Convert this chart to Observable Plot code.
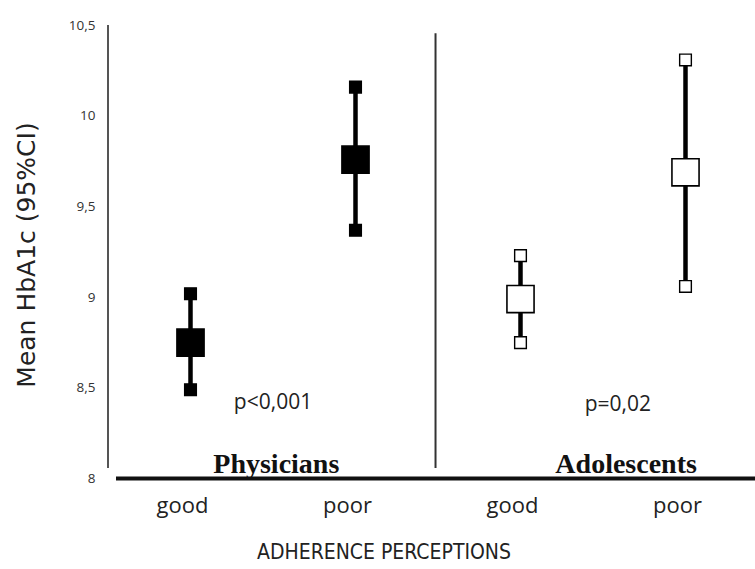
<!DOCTYPE html>
<html>
<head>
<meta charset="utf-8">
<script src="https://cdn.jsdelivr.net/npm/d3@7"></script>
<script src="https://cdn.jsdelivr.net/npm/@observablehq/plot@0.6"></script>
<style>
  html, body { margin: 0; padding: 0; background: #fff; }
  #chart { width: 755px; height: 569px; }
</style>
</head>
<body>
<div id="chart"></div>
<script>
// ---- data ----
const groups = ["Physicians", "Physicians", "Adolescents", "Adolescents"];
const adherence = ["good", "poor", "good", "poor"];
const position = [1, 2, 3, 4];
const meanHbA1c = [8.75, 9.76, 8.99, 9.69];
const lowerCI = [8.49, 9.37, 8.75, 9.06];
const upperCI = [9.02, 10.16, 9.23, 10.31];
const yTicks = [8, 8.5, 9, 9.5, 10, 10.5];
const groupLabels = ["Physicians", "Adolescents"];
const groupLabelX = [1.52, 3.64];
const pLabels = ["p<0,001", "p=0,02"];
const pLabelX = [1.5, 3.59];
const pLabelY = [8.42, 8.41];

const rows = position.map((p, i) => ({
  x: p, group: groups[i], adherence: adherence[i],
  mean: meanHbA1c[i], lo: lowerCI[i], hi: upperCI[i],
  open: groups[i] === "Adolescents"
}));
const ends = rows.flatMap(d => [{x: d.x, y: d.lo, open: d.open}, {x: d.x, y: d.hi, open: d.open}]);
const gl = groupLabels.map((t, i) => ({t, x: groupLabelX[i]}));
const pl = pLabels.map((t, i) => ({t, x: pLabelX[i], y: pLabelY[i]}));

const sans = "'Open Sans', 'DejaVu Sans', sans-serif";

const chart = Plot.plot({
  width: 755,
  height: 569,
  marginLeft: 116,
  marginRight: 0,
  marginTop: 25,
  marginBottom: 91,
  style: {fontFamily: sans, background: "#fff", color: "#222"},
  x: {type: "linear", domain: [1, 4], range: [190, 685], axis: null},
  y: {domain: [8, 10.5], axis: null},
  marks: [
    // y axis line and divider
    Plot.ruleX([0.5], {y1: 8.055, y2: 10.5, stroke: "#555", strokeWidth: 2}),
    Plot.ruleX([2.485], {y1: 8.055, y2: 10.455, stroke: "#333", strokeWidth: 2}),
    // bottom axis line
    Plot.ruleY([8], {stroke: "#111", strokeWidth: 4}),
    // y tick labels
    Plot.axisY({ticks: yTicks, tickSize: 0, tickPadding: 21, fontSize: 13.5,
      tickFormat: d => String(d).replace(".", ","), fill: "#333"}),
    // x tick labels
    Plot.text(rows, {x: "x", y: 8, text: "adherence", dy: 27, dx: -8,
      fontSize: 22, fill: "#222", fontFamily: sans}),
    // error bars
    Plot.ruleX(rows, {x: "x", y1: "lo", y2: "hi", stroke: "#000", strokeWidth: 4.5}),
    // CI end squares
    Plot.dot(ends, {x: "x", y: "y", symbol: "square", r: 6.6,
      fill: d => d.open ? "#fff" : "#000", stroke: "#000", strokeWidth: 1.4}),
    // mean squares
    Plot.dot(rows, {x: "x", y: "mean", symbol: "square", r: 15.3,
      fill: d => d.open ? "#fff" : "#000", stroke: "#000", strokeWidth: 1.6}),
    // group labels
    Plot.text(gl, {x: "x", y: 8, text: "t", lineAnchor: "bottom", dy: -6,
      fontFamily: "'Liberation Serif', 'Times New Roman', serif", fontWeight: "bold",
      fontSize: 28, fill: "#111"}),
    // p-values
    Plot.text(pl, {x: "x", y: "y", text: "t", fontSize: 21, fill: "#222", fontFamily: sans}),
    // axis titles
    Plot.text(["ADHERENCE PERCEPTIONS"], {frameAnchor: "bottom", dx: -52, dy: 80,
      fontSize: 21, fill: "#222", fontFamily: "'Liberation Sans Narrow', 'DejaVu Sans Condensed', 'Roboto', sans-serif",
      fontWeight: "normal"}),
    Plot.text(["Mean HbA1c (95%CI)"], {frameAnchor: "left", textAnchor: "middle", dx: -90, dy: 3, rotate: -90,
      fontSize: 25, fill: "#222", fontFamily: "'DejaVu Sans', sans-serif"})
  ]
});
document.getElementById("chart").appendChild(chart);
</script>
</body>
</html>
